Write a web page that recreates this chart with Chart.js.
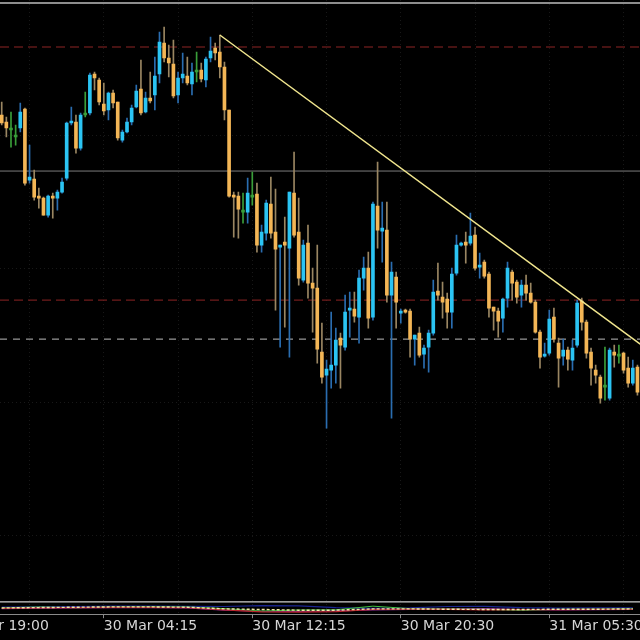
<!DOCTYPE html>
<html>
<head>
<meta charset="utf-8">
<script src="https://cdn.jsdelivr.net/npm/chart.js@4/dist/chart.umd.min.js"></script>
<style>
html,body{margin:0;padding:0;background:#000;}
canvas{display:block;}
</style>
</head>
<body>
<canvas id="c" width="640" height="640"></canvas>
<script>
// ---- data (15-minute candles, arbitrary price units) ----
const opens = [485,478,472,465,472,491,420,421,404,402,
  385,404,402,408,422,477,478,452,487,487,
  526,520,496,490,507,498,460,468,478,493,
  511,488,502,505,526,557,542,536,505,522,
  524,516,530,530,520,542,552,548,533,490,
  404,404,390,388,405,406,355,367,396,368,
  353,358,352,407,368,320,357,317,312,248,
  225,230,235,262,253,290,291,283,322,332,
  283,394,369,370,305,323,287,290,289,261,
  267,246,253,267,309,303,301,288,327,355,
  358,357,365,333,338,326,293,289,282,302,
  328,318,305,315,307,298,268,244,247,283,
  257,244,250,240,255,299,278,248,230,223,
  215,202,248,246,247,232,217,233];
const closes = [477,472,472,465,488,417,423,403,402,385,
  404,402,408,418,477,478,452,485,487,525,
  522,498,489,507,497,462,468,478,492,509,
  487,502,499,524,558,542,537,504,522,526,
  517,528,530,521,541,549,547,533,490,404,
  403,391,390,407,405,355,368,397,367,351,
  355,355,408,365,322,355,317,312,251,223,
  231,235,260,255,288,292,284,322,332,282,
  396,370,372,305,328,298,289,288,261,265,
  245,252,267,308,305,298,288,326,355,356,
  355,364,332,335,324,292,289,279,301,332,
  317,303,315,307,298,268,243,246,281,261,
  242,250,241,252,297,278,247,232,225,202,
  215,250,245,246,230,217,232,208];
const highs = [498,483,488,475,497,492,455,430,412,403,
  405,407,410,422,478,493,485,487,508,527,
  528,522,517,508,510,498,470,482,495,515,
  540,508,528,543,568,573,555,560,528,547,
  543,537,548,537,543,563,557,565,538,490,
  408,408,407,422,428,417,375,400,423,411,
  355,383,408,448,402,360,375,332,355,277,
  240,288,272,267,305,308,308,330,343,348,
  398,438,398,398,338,328,291,291,291,265,
  273,255,270,320,337,318,307,332,365,358,
  368,387,373,347,340,328,293,292,302,338,
  330,320,320,325,317,300,270,257,290,292,
  262,261,253,260,300,302,280,252,235,225,
  253,252,255,255,248,243,240,235];
const lows = [475,463,453,455,468,415,417,400,392,385,
  383,382,390,407,420,475,447,450,483,485,
  510,495,485,480,492,460,458,467,475,492,
  485,487,497,490,517,538,523,502,497,517,
  515,505,518,518,513,538,540,522,480,403,
  363,362,377,377,395,348,348,360,362,290,
  253,273,243,363,315,318,302,268,237,217,
  172,212,217,212,250,263,278,257,310,272,
  280,352,338,298,182,272,277,287,243,235,
  243,232,228,265,300,282,272,272,325,354,
  337,355,330,322,322,283,270,263,268,293,
  300,297,293,300,297,267,232,243,245,258,
  213,235,230,230,253,270,242,215,217,197,
  200,200,233,237,227,213,215,205];

// time axis: candle index of each labelled tick, and its label
const tickIndex  = [-10, 22, 54, 86, 118];
const tickLabels = ['29 Mar 19:00', '30 Mar 04:15', '30 Mar 12:15', '30 Mar 20:30', '31 Mar 05:30'];
const gridIndex  = [6, 38, 70, 102, 134];
const priceGrid  = [465, 332, 198, 65];

// horizontal levels and trend line
const levelTopLine   = 597;
const levelGrayLine  = 429;
const levelRedUpper  = 553;
const levelRedLower  = 300;
const levelWhiteDash = 261;
const trendIdx   = [47, 137.6];
const trendPrice = [565, 256];

// indicator sub-window (sampled every 8 candles)
const indX       = [0,8,16,24,32,40,48,56,64,72,80,88,96,104,112,120,128,136];
const indYellow  = [4.8,5.1,5.4,5.7,5.7,5.4,4.0,3.5,2.9,2.9,4.0,4.0,3.7,3.5,3.5,3.7,3.7,4.0];
const indRed     = [4.5,4.8,5.0,5.2,5.3,5.0,3.2,1.5,1.2,1.6,3.5,3.8,3.6,3.2,3.3,3.4,3.5,3.7];
const indMagenta = [4.3,4.6,4.8,5.0,5.0,4.8,3.0,2.0,1.8,2.3,3.2,3.5,3.9,4.2,3.4,3.2,3.3,3.5];
const indBlue    = [5.5,5.8,6.0,6.3,6.4,6.2,6.0,6.8,6.5,5.0,4.5,4.8,6.0,6.2,5.0,4.6,4.8,4.9];
const indGreen   = [4.9,5.6,5.0,5.6,5.8,5.6,4.2,2.2,3.0,3.2,6.3,4.2,3.8,3.6,2.8,3.6,3.8,4.1];

// ---- styling ----
const X_MIN = -0.37, X_MAX = 137.55;
const BODY = {up:'#2bc4f3', down:'#f3b656', doji:'#3a9e3a'};
const WICK = {up:'#2a6db0', down:'#9a8662', doji:'#3a9e3a'};
function kind(i){ if (opens[i] === closes[i]) return 'doji'; return closes[i] > opens[i] ? 'up' : 'down'; }

const wickData = lows.map((l, i) => ({x: i, y: [l, highs[i]]}));
const bodyData = opens.map((o, i) => ({x: i, y: [o, closes[i]]}));
const level = v => [{x: X_MIN, y: v}, {x: X_MAX, y: v}];
const ind = arr => indX.map((x, k) => ({x, y: arr[k]}));
const lineBase = {type:'line', pointRadius:0, tension:0, fill:false};

new Chart(document.getElementById('c'), {
  type: 'bar',
  data: {
    datasets: [
      Object.assign({}, lineBase, {label:'trend', data: trendIdx.map((x,k)=>({x, y: trendPrice[k]})), borderColor:'#f1e68e', borderWidth:1.5, order:0}),
      {label:'body', data: bodyData, grouped:false, barThickness:3, minBarLength:2, borderWidth:0,
        backgroundColor: c => BODY[kind(c.dataIndex)], order:1},
      {label:'wick', data: wickData, grouped:false, barThickness:1, borderWidth:0,
        backgroundColor: c => WICK[kind(c.dataIndex)], order:2},
      Object.assign({}, lineBase, {label:'top', data: level(levelTopLine), borderColor:'#bdbdbd', borderWidth:1.5, order:3}),
      Object.assign({}, lineBase, {label:'gray', data: level(levelGrayLine), borderColor:'#7c7c7c', borderWidth:1, order:3}),
      Object.assign({}, lineBase, {label:'red1', data: level(levelRedUpper), borderColor:'#8e2424', borderWidth:1, borderDash:[9,5], order:3}),
      Object.assign({}, lineBase, {label:'red2', data: level(levelRedLower), borderColor:'#8e2424', borderWidth:1, borderDash:[9,5], order:3}),
      Object.assign({}, lineBase, {label:'white', data: level(levelWhiteDash), borderColor:'#bcbcbc', borderWidth:1, borderDash:[7,6], order:3}),
      Object.assign({}, lineBase, {label:'indTop', yAxisID:'y2', data: [{x:X_MIN,y:10},{x:X_MAX,y:10}], borderColor:'#d0d0d0', borderWidth:1.5, order:4}),
      Object.assign({}, lineBase, {label:'blue', yAxisID:'y2', data: ind(indBlue), borderColor:'#1a2590', borderWidth:1.2, order:6}),
      Object.assign({}, lineBase, {label:'magenta', yAxisID:'y2', data: ind(indMagenta), borderColor:'#8e2c96', borderWidth:1.2, order:6}),
      Object.assign({}, lineBase, {label:'red', yAxisID:'y2', data: ind(indRed), borderColor:'#b8242a', borderWidth:1.2, order:5}),
      Object.assign({}, lineBase, {label:'green', yAxisID:'y2', data: ind(indGreen), borderColor:'#3fbf3f', borderWidth:1, order:5}),
      Object.assign({}, lineBase, {label:'yellow', yAxisID:'y2', data: ind(indYellow), borderColor:'#f0eaa8', borderWidth:1.4, borderDash:[3,2], order:4})
    ]
  },
  options: {
    responsive: false,
    animation: false,
    events: [],
    layout: {padding: {left:0, right:0, top:0, bottom:5}},
    plugins: {legend:{display:false}, tooltip:{enabled:false}},
    scales: {
      x: {
        type: 'linear', min: X_MIN, max: X_MAX, offset: false, bounds: 'data',
        afterBuildTicks: s => { s.ticks = [...tickIndex, ...gridIndex].sort((a,b)=>a-b).map(v => ({value: v})); },
        afterFit: s => { s.paddingLeft = 0; s.paddingRight = 0; },
        ticks: {
          autoSkip: false, maxRotation: 0, align: 'start', padding: 0,
          color: '#d6d6d6', font: {family: 'DejaVu Sans', size: 14},
          callback: v => { const k = tickIndex.indexOf(v); return k >= 0 ? tickLabels[k] : ''; }
        },
        grid: {
          offset: false, color: '#181818', lineWidth: 1, tickLength: 4,
          tickColor: c => (c.tick && tickIndex.includes(c.tick.value)) ? '#8a8a8a' : 'rgba(0,0,0,0)'
        },
        border: {display: true, color: '#8a8a8a', width: 1, dash: [1,3]}
      },
      y: {
        position: 'right', stack: 'v', stackWeight: 601, min: -1, max: 600,
        afterBuildTicks: s => { s.ticks = priceGrid.map(v => ({value: v})); },
        ticks: {display: false},
        grid: {color: '#181818', lineWidth: 1, drawTicks: false},
        border: {display: false, dash: [1,3]}
      },
      y2: {
        position: 'right', stack: 'v', stackWeight: 13, min: -0.5, max: 10.5,
        ticks: {display: false},
        grid: {display: false, drawTicks: false},
        border: {display: false}
      }
    }
  }
});
</script>
</body>
</html>
